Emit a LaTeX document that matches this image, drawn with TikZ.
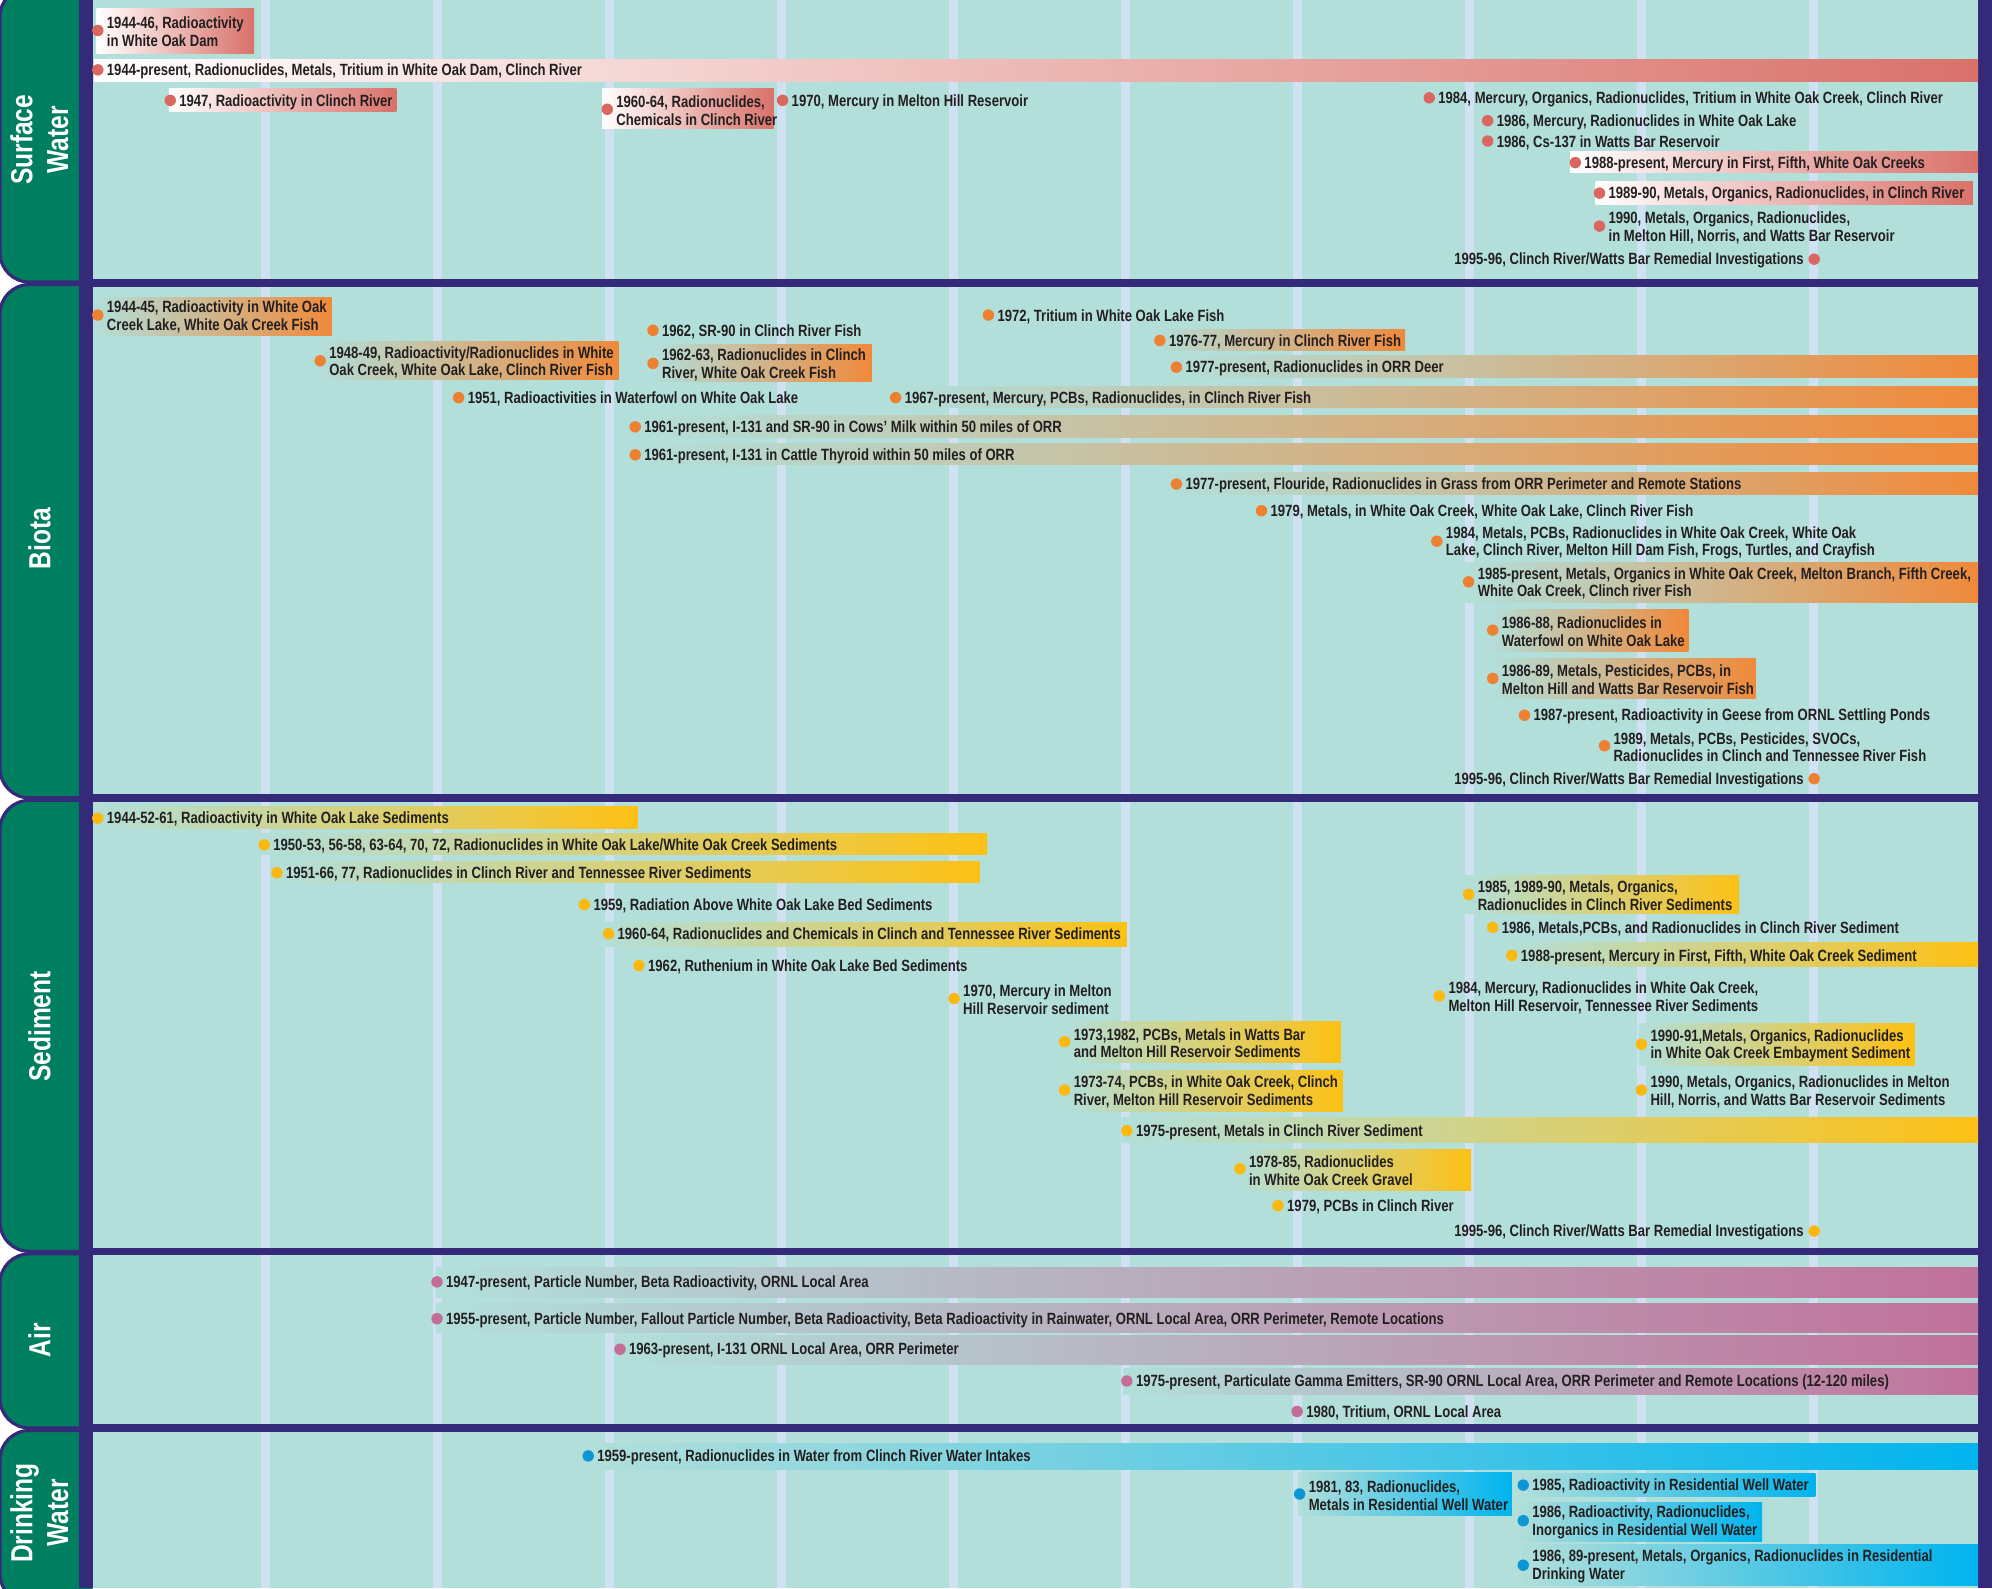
\documentclass[tikz,border=0pt]{standalone}
\usepackage{fontspec}
\setmainfont{Liberation Sans}[FakeStretch=0.805]
\definecolor{panel}{HTML}{B2DFDA}
\definecolor{vline}{HTML}{CFE1F3}
\definecolor{purp}{HTML}{352A7A}
\definecolor{tabg}{HTML}{007F60}
\definecolor{swc}{HTML}{D9716A}
\definecolor{swd}{HTML}{D9675F}
\definecolor{bic}{HTML}{F0893A}
\definecolor{bid}{HTML}{EE8032}
\definecolor{sec}{HTML}{FDC114}
\definecolor{sed}{HTML}{FBB810}
\definecolor{aic}{HTML}{C0719A}
\definecolor{aid}{HTML}{C26C96}
\definecolor{dwc}{HTML}{00B4EE}
\definecolor{dwd}{HTML}{0C96D4}
\definecolor{txt}{HTML}{231F20}
\tikzset{
  evt/.style={font=\fontsize{12.8}{14}\selectfont\bfseries, text=txt, inner sep=0pt, align=left},
  tablabel/.style={font=\fontsize{24}{28}\selectfont\bfseries, text=white, rotate=90, align=center, inner sep=0pt},
  tabshape/.style={fill=tabg, draw=purp, line width=2.5pt, rounded corners=23pt},
  sepbar/.style={fill=purp},
}
\newcommand\ev[5]{\fill[#4] (#2,#3) circle (4.5pt); \node[evt,anchor=west] (#1) at ({#2+7},{#3+1.2}) {#5};}
\newcommand\evl[5]{\fill[#4] (#2,#3) circle (4.5pt); \node[evt,anchor=east] (#1) at ({#2-8},{#3+1.2}) {#5};}
\newcommand\gb[6]{\shade[left color=#5,right color=#6] (#1,#2) rectangle (#3,#4);}
\begin{document}
\begin{tikzpicture}[x=1pt,y=-1pt]
\useasboundingbox (0,0) rectangle (1568,1250);
\fill[white] (0,0) rectangle (1568,1250);
% panel
\fill[panel] (73,0) rectangle (1557,1250);
\foreach \k in {0,...,9} \fill[vline] ({209+135.4*\k-3.5},0) rectangle ({209+135.4*\k+3.5},1250);
% tabs
\path[tabshape] (73,-10) -- (0,-10) -- (0,222) -- (73,222);
\path[tabshape] (73,224) -- (0,224) -- (0,628) -- (73,628);
\path[tabshape] (73,630) -- (0,630) -- (0,985) -- (73,985);
\path[tabshape] (73,987) -- (0,987) -- (0,1124) -- (73,1124);
\path[tabshape] (73,1126) -- (0,1126) -- (0,1262) -- (73,1262);
\fill[sepbar] (62,0) rectangle (73,1250);
\fill[sepbar] (1557,0) rectangle (1568,1250);
\fill[sepbar] (62,220) rectangle (1568,226);
\fill[sepbar] (62,625) rectangle (1568,631);
\fill[sepbar] (62,982) rectangle (1568,988);
\fill[sepbar] (62,1121) rectangle (1568,1127);
\node[tablabel] (tsw) at (31,110) {Surface\\Water};
\node[tablabel] (tbi) at (31,424) {Biota};
\node[tablabel] (tse) at (31,808) {Sediment};
\node[tablabel] (tai) at (31,1055) {Air};
\node[tablabel] (tdw) at (31,1191) {Drinking\\Water};
% ---------- Surface Water
\gb{76}{7}{200}{42}{white}{swc}
\ev{s1}{77}{24}{swd}{1944-46, Radioactivity\\in White Oak Dam}
\gb{74}{47}{1557}{64}{white}{swc}
\ev{s2}{77}{55}{swd}{1944-present, Radionuclides, Metals, Tritium in White Oak Dam, Clinch River}
\gb{133}{70}{312}{88}{white}{swc}
\ev{s3}{134}{79}{swd}{1947, Radioactivity in Clinch River}
\gb{474}{70}{609}{101}{white}{swc}
\ev{s4}{478}{86}{swd}{1960-64, Radionuclides,\\Chemicals in Clinch River}
\ev{s5}{616}{79}{swd}{1970, Mercury in Melton Hill Reservoir}
\ev{s6}{1125}{77}{swd}{1984, Mercury, Organics, Radionuclides, Tritium in White Oak Creek, Clinch River}
\ev{s7}{1171}{95}{swd}{1986, Mercury, Radionuclides in White Oak Lake}
\ev{s8}{1171}{111}{swd}{1986, Cs-137 in Watts Bar Reservoir}
\gb{1236}{119}{1557}{136}{white}{swc}
\ev{s9}{1240}{128}{swd}{1988-present, Mercury in First, Fifth, White Oak Creeks}
\gb{1256}{143}{1553}{161}{white}{swc}
\ev{s10}{1259}{152}{swd}{1989-90, Metals, Organics, Radionuclides, in Clinch River}
\ev{s11}{1259}{178}{swd}{1990, Metals, Organics, Radionuclides,\\in Melton Hill, Norris, and Watts Bar Reservoir}
\evl{s12}{1428}{204}{swd}{1995-96, Clinch River/Watts Bar Remedial Investigations}
% ---------- Biota
\gb{74}{234}{261}{264}{panel}{bic}
\ev{b1}{77}{248}{bid}{1944-45, Radioactivity in White Oak\\Creek Lake, White Oak Creek Fish}
\gb{249}{269}{487}{299}{panel}{bic}
\ev{b2}{252}{284}{bid}{1948-49, Radioactivity/Radionuclides in White\\Oak Creek, White Oak Lake, Clinch River Fish}
\ev{b3}{361}{313}{bid}{1951, Radioactivities in Waterfowl on White Oak Lake}
\ev{b4}{514}{260}{bid}{1962, SR-90 in Clinch River Fish}
\gb{514}{271}{686}{300}{panel}{bic}
\ev{b5}{514}{286}{bid}{1962-63, Radionuclides in Clinch\\River, White Oak Creek Fish}
\ev{b6}{778}{248}{bid}{1972, Tritium in White Oak Lake Fish}
\gb{910}{259}{1106}{276}{panel}{bic}
\ev{b7}{913}{268}{bid}{1976-77, Mercury in Clinch River Fish}
\gb{923}{280}{1557}{297}{panel}{bic}
\ev{b8}{926}{289}{bid}{1977-present, Radionuclides in ORR Deer}
\gb{702}{304}{1557}{321}{panel}{bic}
\ev{b9}{705}{313}{bid}{1967-present, Mercury, PCBs, Radionuclides, in Clinch River Fish}
\gb{497}{327}{1557}{344}{panel}{bic}
\ev{b10}{500}{336}{bid}{1961-present, I-131 and SR-90 in Cows' Milk within 50 miles of ORR}
\gb{497}{349}{1557}{366}{panel}{bic}
\ev{b11}{500}{358}{bid}{1961-present, I-131 in Cattle Thyroid within 50 miles of ORR}
\gb{923}{372}{1557}{389}{panel}{bic}
\ev{b12}{926}{381}{bid}{1977-present, Flouride, Radionuclides in Grass from ORR Perimeter and Remote Stations}
\ev{b13}{993}{402}{bid}{1979, Metals, in White Oak Creek, White Oak Lake, Clinch River Fish}
\ev{b14}{1131}{426}{bid}{1984, Metals, PCBs, Radionuclides in White Oak Creek, White Oak\\Lake, Clinch River, Melton Hill Dam Fish, Frogs, Turtles, and Crayfish}
\gb{1153}{443}{1557}{474}{panel}{bic}
\ev{b15}{1156}{458}{bid}{1985-present, Metals, Organics in White Oak Creek, Melton Branch, Fifth Creek,\\White Oak Creek, Clinch river Fish}
\gb{1172}{480}{1329}{513}{panel}{bic}
\ev{b16}{1175}{496}{bid}{1986-88, Radionuclides in\\Waterfowl on White Oak Lake}
\gb{1172}{518}{1382}{550}{panel}{bic}
\ev{b17}{1175}{534}{bid}{1986-89, Metals, Pesticides, PCBs, in\\Melton Hill and Watts Bar Reservoir Fish}
\ev{b18}{1200}{563}{bid}{1987-present, Radioactivity in Geese from ORNL Settling Ponds}
\ev{b19}{1263}{587}{bid}{1989, Metals, PCBs, Pesticides, SVOCs,\\Radionuclides in Clinch and Tennessee River Fish}
\evl{b20}{1428}{613}{bid}{1995-96, Clinch River/Watts Bar Remedial Investigations}
% ---------- Sediment
\gb{74}{635}{502}{652}{panel}{sec}
\ev{d1}{77}{644}{sed}{1944-52-61, Radioactivity in White Oak Lake Sediments}
\gb{205}{656}{777}{673}{panel}{sec}
\ev{d2}{208}{665}{sed}{1950-53, 56-58, 63-64, 70, 72, Radionuclides in White Oak Lake/White Oak Creek Sediments}
\gb{215}{678}{771}{695}{panel}{sec}
\ev{d3}{218}{687}{sed}{1951-66, 77, Radionuclides in Clinch River and Tennessee River Sediments}
\ev{d4}{460}{712}{sed}{1959, Radiation Above White Oak Lake Bed Sediments}
\gb{475}{726}{887}{745}{panel}{sec}
\ev{d5}{479}{735}{sed}{1960-64, Radionuclides and Chemicals in Clinch and Tennessee River Sediments}
\ev{d6}{503}{760}{sed}{1962, Ruthenium in White Oak Lake Bed Sediments}
\ev{d7}{751}{786}{sed}{1970, Mercury in Melton\\Hill Reservoir sediment}
\gb{836}{804}{1055}{836}{panel}{sec}
\ev{d8}{838}{820}{sed}{1973,1982, PCBs, Metals in Watts Bar\\and Melton Hill Reservoir Sediments}
\gb{836}{843}{1057}{875}{panel}{sec}
\ev{d9}{838}{858}{sed}{1973-74, PCBs, in White Oak Creek, Clinch\\River, Melton Hill Reservoir Sediments}
\gb{883}{880}{1557}{899}{panel}{sec}
\ev{d10}{887}{890}{sed}{1975-present, Metals in Clinch River Sediment}
\gb{973}{905}{1158}{937}{panel}{sec}
\ev{d11}{976}{920}{sed}{1978-85, Radionuclides\\in White Oak Creek Gravel}
\ev{d12}{1006}{949}{sed}{1979, PCBs in Clinch River}
\evl{d13}{1428}{969}{sed}{1995-96, Clinch River/Watts Bar Remedial Investigations}
\gb{1153}{689}{1369}{719}{panel}{sec}
\ev{d14}{1156}{704}{sed}{1985, 1989-90, Metals, Organics,\\Radionuclides in Clinch River Sediments}
\ev{d15}{1175}{730}{sed}{1986, Metals,PCBs, and Radionuclides in Clinch River Sediment}
\gb{1186}{742}{1557}{761}{panel}{sec}
\ev{d16}{1190}{752}{sed}{1988-present, Mercury in First, Fifth, White Oak Creek Sediment}
\ev{d17}{1133}{784}{sed}{1984, Mercury, Radionuclides in White Oak Creek,\\Melton Hill Reservoir, Tennessee River Sediments}
\gb{1290}{806}{1507}{839}{panel}{sec}
\ev{d18}{1292}{822}{sed}{1990-91,Metals, Organics, Radionuclides\\in White Oak Creek Embayment Sediment}
\ev{d19}{1292}{858}{sed}{1990, Metals, Organics, Radionuclides in Melton\\Hill, Norris, and Watts Bar Reservoir Sediments}
% ---------- Air
\gb{343}{998}{1557}{1021}{panel}{aic}
\ev{a1}{344}{1009}{aid}{1947-present, Particle Number, Beta Radioactivity, ORNL Local Area}
\gb{343}{1026}{1557}{1049}{panel}{aic}
\ev{a2}{344}{1038}{aid}{1955-present, Particle Number, Fallout Particle Number, Beta Radioactivity, Beta Radioactivity in Rainwater, ORNL Local Area, ORR Perimeter, Remote Locations}
\gb{486}{1051}{1557}{1074}{panel}{aic}
\ev{a3}{488}{1062}{aid}{1963-present, I-131 ORNL Local Area, ORR Perimeter}
\gb{884}{1077}{1557}{1098}{panel}{aic}
\ev{a4}{887}{1087}{aid}{1975-present, Particulate Gamma Emitters, SR-90 ORNL Local Area, ORR Perimeter and Remote Locations (12-120 miles)}
\ev{a5}{1021}{1111}{aid}{1980, Tritium, ORNL Local Area}
% ---------- Drinking Water
\gb{460}{1136}{1557}{1157}{panel}{dwc}
\ev{w1}{463}{1146}{dwd}{1959-present, Radionuclides in Water from Clinch River Water Intakes}
\gb{1022}{1159}{1190}{1193}{panel}{dwc}
\ev{w2}{1023}{1176}{dwd}{1981, 83, Radionuclides,\\Metals in Residential Well Water}
\gb{1194}{1160}{1429}{1178}{panel}{dwc}
\ev{w3}{1199}{1169}{dwd}{1985, Radioactivity in Residential Well Water}
\gb{1194}{1183}{1387}{1213}{panel}{dwc}
\ev{w4}{1199}{1197}{dwd}{1986, Radioactivity, Radionuclides,\\Inorganics in Residential Well Water}
\gb{1194}{1216}{1557}{1248}{panel}{dwc}
\ev{w5}{1199}{1232}{dwd}{1986, 89-present, Metals, Organics, Radionuclides in Residential\\Drinking Water}
\end{tikzpicture}
\end{document}
